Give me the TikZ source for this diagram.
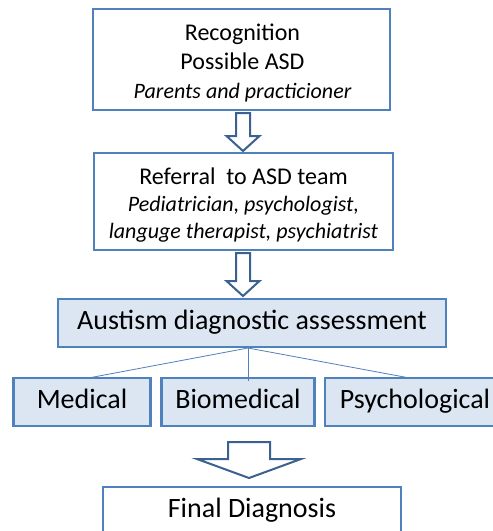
\documentclass[tikz,border=0pt]{standalone}
\usepackage{fontspec}
\setmainfont{Carlito}
\usetikzlibrary{calc}
\definecolor{bordc}{HTML}{4F81BD}
\definecolor{arrc}{HTML}{3A6190}
\definecolor{fillc}{HTML}{DCE6F2}
\tikzset{
  box/.style={draw=bordc, line width=2.8pt, fill=white, align=center, inner sep=0pt},
  bluebox/.style={box, fill=fillc, font=\fontsize{28}{32}\selectfont, text height=19pt, text depth=6pt},
  boxtext/.style={align=center, inner sep=0pt},
  bigarr/.style={draw=arrc, line width=2pt, fill=white, line join=miter},
  link/.style={draw=bordc, line width=0.8pt},
}
\newcommand{\itl}[1]{{\fontsize{22}{29}\selectfont\itshape #1}}
\begin{document}
\begin{tikzpicture}[x=1pt,y=-1pt]
\clip (0,0) rectangle (493,531);
\fill[white] (0,0) rectangle (493,531);
\node[box, minimum width=297pt, minimum height=101pt] (b1) at (241.5,59.5) {};
\node[boxtext, font=\fontsize{24}{29}\selectfont] (t1) at ($(b1.center)+(1,3)$)
  {Recognition\\ Possible ASD\\ \itl{Parents and practicioner}};
\node[box, minimum width=299pt, minimum height=97pt] (b2) at (243.5,201.5) {};
\node[boxtext, font=\fontsize{24}{27}\selectfont] (t2) at ($(b2.center)+(0,4)$)
  {Referral\ \ to ASD team\\ \itl{Pediatrician, psychologist,}\\ \itl{languge therapist, psychiatrist}};
\node[bluebox, minimum width=388pt, minimum height=48pt] (b3) at (252,323) {Austism diagnostic assessment};
\node[bluebox, minimum width=137pt, minimum height=48pt] (m1) at (82,402) {Medical};
\node[bluebox, minimum width=153pt, minimum height=48pt] (m2) at (238,402) {Biomedical};
\node[bluebox, minimum width=200pt, minimum height=48pt] (m3) at (425,402) {Psychological\hspace{20pt}};
\node[box, minimum width=298pt, minimum height=48pt, font=\fontsize{28}{32}\selectfont, text height=19pt, text depth=6pt] (b4) at (252,511) {Final Diagnosis};
% links
\coordinate (hub) at (248,348);
\draw[link] (hub) -- (91,377.5);
\draw[link] (hub) -- (248,381);
\draw[link] (hub) -- (407,377.5);
% arrow 1
\coordinate (a1) at (243,113);
\draw[bigarr] ($(a1)+(-7,0)$) -- ($(a1)+(7,0)$) -- ($(a1)+(7,23)$) -- ($(a1)+(16.5,23)$) -- ($(a1)+(0,38)$) -- ($(a1)+(-16.5,23)$) -- ($(a1)+(-7,23)$) -- cycle;
% arrow 2
\coordinate (a2) at (243,253);
\draw[bigarr] ($(a2)+(-7,0)$) -- ($(a2)+(7,0)$) -- ($(a2)+(7,28)$) -- ($(a2)+(16.5,28)$) -- ($(a2)+(0,43)$) -- ($(a2)+(-16.5,28)$) -- ($(a2)+(-7,28)$) -- cycle;
% arrow 3
\coordinate (a3) at (249,442);
\draw[bigarr] ($(a3)+(-21,0)$) -- ($(a3)+(21,0)$) -- ($(a3)+(21,17)$) -- ($(a3)+(52,17)$) -- ($(a3)+(0,36)$) -- ($(a3)+(-52,17)$) -- ($(a3)+(-21,17)$) -- cycle;
\end{tikzpicture}
\end{document}
